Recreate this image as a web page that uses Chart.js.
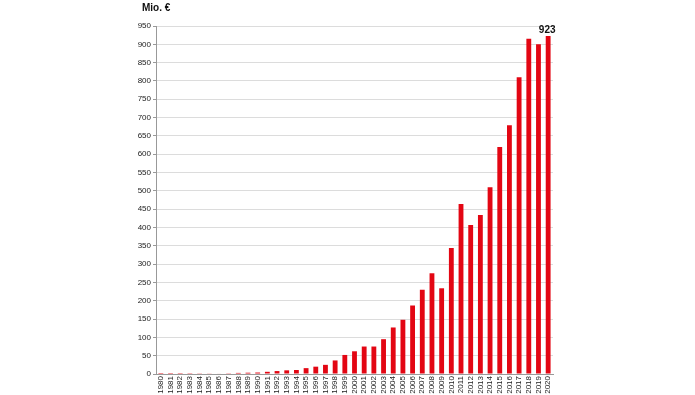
<!DOCTYPE html>
<html>
<head>
<meta charset="utf-8">
<script src="https://cdn.jsdelivr.net/npm/chart.js@4.4.1/dist/chart.umd.min.js"></script>
<style>
  html, body { margin: 0; padding: 0; background: #fff; }
  #wrap { width: 695px; height: 395px; position: relative; }
</style>
</head>
<body>
<div id="wrap"><canvas id="chart" width="695" height="395"></canvas></div>
<script>
// =======================
// DATA
// =======================
const years = [];
for (let y = 1980; y <= 2020; y++) years.push(String(y));

const values = [
  0.1, 0.2, 0.3, 0.5, 0.8, 1, 1.5, 2, 3, 3.5,
  4, 6, 8, 10, 11, 16, 20, 25, 37, 52,
  62, 75, 75, 95, 127, 148, 187, 230, 275, 234,
  344, 464, 407, 434, 510, 620, 679, 810, 915, 900,
  923
];

const yMax = 950;
const yStep = 50;
const unitLabel = "Mio. €";
const lastLabel = "923";

const FONT = "'Liberation Sans Narrow', 'Liberation Sans', Arial, sans-serif";

// =======================
// PLUGIN : texts
// =======================
const extraText = {
  id: "extraText",
  afterDatasetsDraw(chart) {
    const ctx = chart.ctx;
    const area = chart.chartArea;
    ctx.save();
    ctx.fillStyle = "#111";
    ctx.font = "bold 10px " + FONT;
    ctx.textAlign = "left";
    ctx.textBaseline = "middle";
    ctx.fillText(unitLabel, area.left - 14, 8);

    // label above the last bar
    const meta = chart.getDatasetMeta(0);
    const bar = meta.data[meta.data.length - 1];
    ctx.font = "bold 10px " + FONT;
    ctx.textAlign = "center";
    ctx.textBaseline = "bottom";
    ctx.fillText(lastLabel, bar.x - 1, bar.y - 1);
    ctx.restore();
  }
};

// =======================
// CHART
// =======================
new Chart(document.getElementById("chart"), {
  type: "bar",
  data: {
    labels: years,
    datasets: [{
      data: values,
      backgroundColor: "#e30613",
      borderWidth: 0,
      barPercentage: 0.5,
      categoryPercentage: 1
    }]
  },
  options: {
    responsive: false,
    animation: false,
    layout: { padding: { left: 0, right: 142, top: 26, bottom: 0 } },
    plugins: {
      legend: { display: false },
      tooltip: { enabled: false }
    },
    scales: {
      x: {
        grid: { display: false, drawTicks: false },
        border: { color: "#999" },
        ticks: {
          color: "#222",
          font: { family: FONT, size: 8 },
          minRotation: 90,
          maxRotation: 90,
          autoSkip: false,
          padding: 2
        },
        afterFit(scale) { scale.height = 21; }
      },
      y: {
        min: 0,
        max: yMax,
        grid: { color: "#dcdcdc", tickLength: 3, tickColor: "#999" },
        border: { color: "#999" },
        ticks: {
          stepSize: yStep,
          color: "#222",
          font: { family: FONT, size: 8 },
          padding: 2
        },
        afterFit(scale) { scale.width = 156; }
      }
    }
  },
  plugins: [extraText]
});
</script>
</body>
</html>
